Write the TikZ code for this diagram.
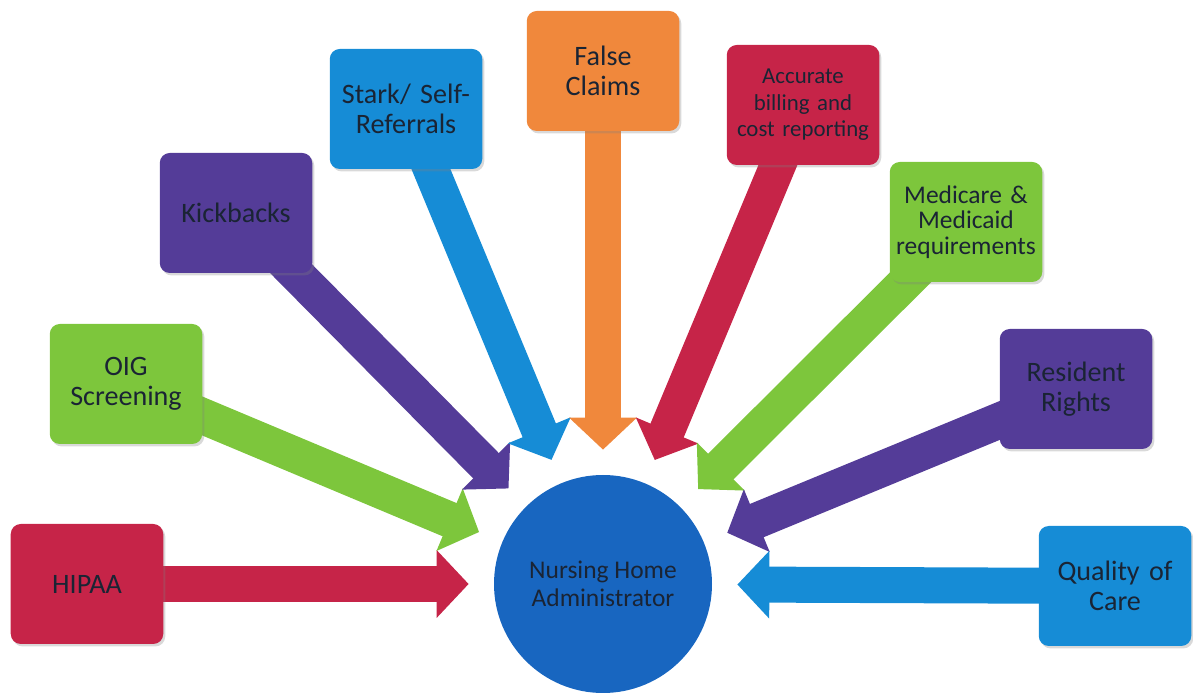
\documentclass[tikz,border=0pt]{standalone}
\usepackage{fontspec}
\setmainfont{Carlito}
\usepackage{tikz}
\usetikzlibrary{arrows.meta, shapes, shadows, backgrounds, positioning}
\definecolor{crimson}{RGB}{198,36,72}
\definecolor{leaf}{RGB}{125,198,60}
\definecolor{violet}{RGB}{84,60,152}
\definecolor{sky}{RGB}{22,140,214}
\definecolor{amber}{RGB}{240,136,60}
\definecolor{disc}{RGB}{24,102,192}
\definecolor{ink}{RGB}{26,36,52}
\tikzstyle{topic} = [rectangle, rounded corners=0.2cm, minimum width=3.05cm, minimum height=2.4cm,
                     inner xsep=0.1cm, text width=2.85cm, align=center, text=ink,
                     font=\fontsize{16}{17}\selectfont,
                     drop shadow={opacity=0.3, shadow xshift=0.04cm, shadow yshift=-0.05cm}]
\tikzstyle{feed} = [line width=0.72cm, -{Triangle[length=0.64cm, width=1.32cm]}, shorten >=0.5cm]

\begin{document}
\begin{tikzpicture}
					\useasboundingbox (0, 0) rectangle (23.86, 13.88);
					\node (Admin) [circle, fill=disc, minimum size=4.36cm, text=ink, align=center,
					               font=\fontsize{14.5}{16}\selectfont] at (12.06, 2.2) {Nursing Home\\Administrator};

					\node (Hipaa) [topic, fill=crimson] at (1.74, 2.2) {HIPAA};
					\node (Oig) [topic, fill=leaf] at (2.52, 6.2) {OIG\\Screening};
					\node (Kickbacks) [topic, fill=violet] at (4.72, 9.62) {Kickbacks};
					\node (Stark) [topic, fill=sky] at (8.12, 11.7) {Stark/ Self-\\Referrals};
					\node (FalseClaims) [topic, fill=amber] at (12.06, 12.46) {False\\Claims};
					\node (Billing) [topic, fill=crimson, font=\fontsize{13}{15}\selectfont] at (16.06, 11.78)
					      {Accurate\\billing and\\cost reporting};
					\node (Medicare) [topic, fill=leaf, font=\fontsize{14.5}{14.5}\selectfont] at (19.32, 9.44)
					      {Medicare \&\\Medicaid\\requirements};
					\node (Rights) [topic, fill=violet] at (21.52, 6.1) {Resident\\Rights};
					\node (Quality) [topic, fill=sky] at (22.3, 2.16) {Quality of\\Care};

					\begin{pgfonlayer}{background}
					\draw [feed, crimson] (Hipaa.center) -- (Admin);
					\draw [feed, leaf] (Oig.center) -- (Admin);
					\draw [feed, violet] (Kickbacks.center) -- (Admin);
					\draw [feed, sky] (Stark.center) -- (Admin);
					\draw [feed, amber] (FalseClaims.center) -- (Admin);
					\draw [feed, crimson] (Billing.center) -- (Admin);
					\draw [feed, leaf] (Medicare.center) -- (Admin);
					\draw [feed, violet] (Rights.center) -- (Admin);
					\draw [feed, sky] (Quality.center) -- (Admin);
					\end{pgfonlayer}
				\end{tikzpicture}
\end{document}
